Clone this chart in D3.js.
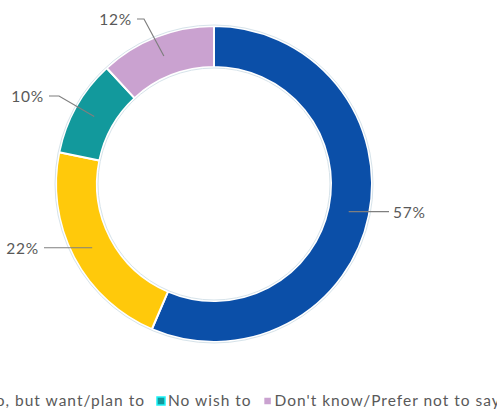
<!DOCTYPE html>
<html>
<head>
<meta charset="utf-8">
<script src="https://cdn.jsdelivr.net/npm/d3@7"></script>
<style>
html,body{margin:0;padding:0;background:#fff;}
svg{display:block;}
text{font-family:"Century Gothic","Lato","Noto Sans",sans-serif;fill:#595959;}
</style>
</head>
<body>
<svg id="chart" width="497" height="410"></svg>
<script>
// ---- data ----
const categories = ["Yes", "No, but want/plan to", "No wish to", "Don't know/Prefer not to say"];
const values = [57, 22, 10, 12];
const labels = ["57%", "22%", "10%", "12%"];
const colors = ["#0B4FA8", "#FFC90B", "#12999C", "#CAA2D0"];

// ---- layout ----
const svg = d3.select("#chart");
const cx = 214, cy = 184, R = 158, r = 117;
const g = svg.append("g").attr("transform", `translate(${cx},${cy})`);

const pie = d3.pie().sort(null).value(d => d)(values);
const arc = d3.arc().innerRadius(r).outerRadius(R);
const mid = d3.arc().innerRadius((r + R) / 2).outerRadius((r + R) / 2);

g.selectAll("path.slice").data(pie).join("path")
  .attr("class", "slice")
  .attr("d", arc)
  .attr("fill", (d, i) => colors[i])
  .attr("stroke", "#ffffff")
  .attr("stroke-width", 2);

// thin outline around the ring
g.append("circle").attr("r", R + 1).attr("fill", "none").attr("stroke", "#d6e3ea").attr("stroke-width", 1);
g.append("circle").attr("r", r - 1).attr("fill", "none").attr("stroke", "#d6e3ea").attr("stroke-width", 1);

// label leader offsets (elbow & end relative to centre), and text anchors
const leader = [
  {elbow: null, end: [175, 28], anchor: "start", dx: 4, dy: 6},
  {elbow: null, end: [-170, 64], anchor: "end", dx: -5, dy: 6},
  {elbow: [-155, -88], end: [-165, -88], anchor: "end", dx: -5, dy: 6},
  {elbow: [-70, -165], end: [-77, -165], anchor: "end", dx: -5, dy: 6}
];

pie.forEach((d, i) => {
  const c = mid.centroid(d);
  const L = leader[i];
  const pts = [c];
  if (L.elbow) pts.push(L.elbow);
  pts.push([L.end[0], L.elbow ? L.end[1] : c[1]]);
  g.append("path")
    .attr("d", d3.line()(pts))
    .attr("fill", "none")
    .attr("stroke", "#7f7f7f")
    .attr("stroke-width", 1.2);
  const last = pts[pts.length - 1];
  g.append("text")
    .attr("x", last[0] + L.dx)
    .attr("y", last[1] + L.dy)
    .attr("text-anchor", L.anchor)
    .attr("font-size", 15.5)
    .attr("letter-spacing", 0.8)
    .text(labels[i]);
});

// ---- legend (cropped like the reference) ----
const legend = svg.append("g");
const items = legend.selectAll("g").data(categories).join("g");
items.append("rect")
  .attr("width", 8).attr("height", 8).attr("y", -9)
  .attr("fill", (d, i) => colors[i])
  .attr("stroke", (d, i) => d3.color(colors[i]).brighter(1.3))
  .attr("stroke-width", 1.5);
items.append("text").attr("x", 11).attr("y", 0)
  .attr("font-size", 15.5).attr("letter-spacing", 1.0).text(d => d);
let x = 0;
const xs = [];
items.each(function () {
  xs.push(x);
  x += this.getBBox().width + 12;
});
const shift = 157 - xs[2];
items.attr("transform", (d, i) => `translate(${xs[i] + shift},406)`);
</script>
</body>
</html>
